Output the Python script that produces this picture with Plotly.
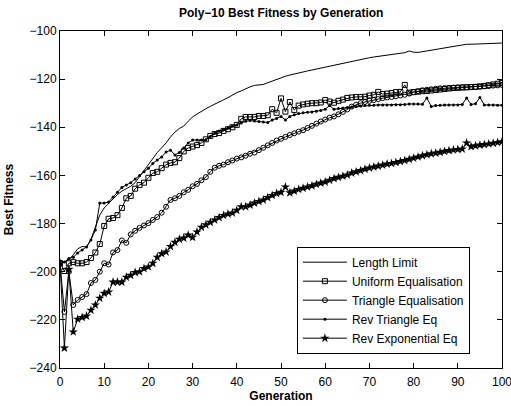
import plotly.graph_objects as go

generations = list(range(0, 101))

length_limit = [
    -196.4, -196.0, -195.0, -193.0, -190.5, -189.5, -189.8, -186.5, -181.5, -176.5,
    -173.5, -171.5, -169.8, -168.0, -166.5, -165.5, -164.5, -163.0, -160.5, -158.0,
    -155.0, -152.5, -150.5, -148.5, -146.5, -144.0, -142.0, -140.5, -139.5, -137.5,
    -135.7, -134.5, -133.3, -132.3, -131.3, -130.5, -129.5, -128.6, -127.7, -126.6,
    -125.6, -124.9, -124.0, -123.2, -122.6, -122.3, -122.2, -121.5, -120.8, -120.0,
    -119.3, -118.8, -118.3, -117.8, -117.4, -117.0, -116.6, -116.2, -115.8, -115.4,
    -115.0, -114.6, -114.2, -113.8, -113.3, -112.9, -112.5, -112.1, -111.8, -111.4,
    -111.1, -110.8, -110.5, -110.2, -110.0, -109.8, -109.6, -109.3, -109.0, -108.3,
    -108.8, -108.9, -108.6, -108.3, -108.0, -107.8, -107.4, -107.0, -106.6, -106.3,
    -106.0, -105.8, -105.5, -105.5, -105.4, -105.4, -105.3, -105.2, -105.1, -105.1,
    -105.0,
]

uniform_eq = [
    -196.4, -199.7, -196.5, -196.0, -196.5, -196.5, -196.0, -194.3, -192.0, -188.5,
    -181.0, -178.0, -177.7, -176.5, -173.5, -169.5, -168.5, -165.5, -164.0, -163.0,
    -161.0, -159.0, -158.5, -157.0, -155.5, -154.8, -154.5, -152.8, -150.0, -148.6,
    -148.0, -147.4, -146.5, -145.0, -143.6, -142.8, -142.4, -141.5, -140.8, -140.0,
    -139.0, -136.5, -135.7, -135.7, -135.7, -135.3, -135.3, -135.0, -132.5, -134.0,
    -128.0, -133.5, -129.5, -132.8, -131.0, -130.5, -130.2, -130.0, -130.0, -129.7,
    -128.7, -129.3, -129.8, -129.0, -128.5, -127.8, -127.6, -127.4, -127.4, -127.3,
    -126.8, -126.5, -125.3, -126.2, -126.0, -125.8, -125.4, -125.3, -122.4, -125.6,
    -125.4, -125.2, -125.0, -124.9, -124.7, -124.5, -124.3, -124.1, -123.9, -123.7,
    -123.6, -123.5, -123.4, -123.3, -123.2, -123.0, -122.8, -122.5, -122.2, -121.9,
    -121.6,
]

triangle_eq = [
    -196.4, -216.7, -200.0, -213.8, -211.7, -210.5, -209.3, -204.7, -203.4, -200.0,
    -196.5, -197.0, -192.0, -191.0, -187.0, -188.0, -184.5, -183.0, -181.8, -180.8,
    -179.8, -178.5, -177.3, -175.5, -173.0, -170.2, -169.5, -168.5, -167.0, -166.0,
    -164.5, -163.5, -162.0, -160.7, -158.5, -156.8, -156.0, -155.5, -154.5, -153.8,
    -153.0, -152.5, -151.8, -151.0, -150.5, -149.5, -148.5, -147.5, -146.5, -145.5,
    -144.8, -144.0, -143.2, -142.5, -141.8, -141.2, -140.3, -139.4, -138.5, -137.6,
    -136.8, -136.0, -135.5, -134.6, -133.6, -132.6, -131.4, -130.6, -130.0, -129.5,
    -129.0, -128.7, -128.3, -127.9, -127.6, -127.4, -127.1, -126.8, -126.5, -126.0,
    -125.4, -125.0, -124.6, -124.4, -124.2, -124.0, -123.8, -123.7, -123.6, -123.5,
    -123.4, -123.3, -123.3, -123.2, -123.2, -123.1, -123.0, -122.9, -122.7, -122.6,
    -122.4,
]

rev_triangle_eq = [
    -196.4, -196.0, -194.5, -194.0, -192.2, -191.0, -189.7, -186.8, -182.7, -171.5,
    -171.5, -171.0, -169.0, -167.0, -165.0, -164.0, -163.0, -161.5, -160.0, -158.5,
    -157.0, -155.0, -153.6, -152.3, -150.3, -149.5, -151.5, -150.5, -148.6, -146.5,
    -145.3, -145.3, -145.3, -145.2, -143.8, -142.5, -141.5, -141.0, -140.3, -139.5,
    -139.0, -138.2, -137.5, -137.2, -137.4, -137.6, -137.8, -138.0, -137.0, -136.3,
    -135.5, -137.0, -135.5, -134.8, -134.3, -134.0, -133.8, -133.6, -133.3, -133.0,
    -132.5, -131.0, -132.5, -132.2, -132.0, -131.8, -131.6, -131.4, -131.2, -131.0,
    -130.8, -130.8, -130.7, -130.7, -130.7, -130.7, -130.6, -130.6, -130.5, -130.3,
    -130.3, -130.3, -130.4, -127.8, -131.4, -131.0, -130.8, -130.7, -130.7, -130.7,
    -130.7, -130.5, -127.8, -130.5, -130.2, -127.6, -130.7, -130.7, -130.7, -130.8,
    -130.8,
]

rev_exponential_eq = [
    -196.4, -231.7, -199.0, -225.0, -219.7, -219.0, -218.4, -216.0, -213.8, -211.0,
    -209.0, -208.4, -204.3, -204.3, -204.3, -202.3, -201.5, -200.3, -200.0, -198.7,
    -198.0, -196.5, -194.0, -192.5, -191.8, -189.5, -187.8, -186.5, -186.0, -184.8,
    -185.7, -183.5, -181.5, -180.5, -179.5, -178.5, -177.5, -176.6, -176.0, -175.6,
    -174.5, -173.0, -173.0, -172.3, -171.5, -170.8, -170.2, -169.2, -168.3, -167.5,
    -167.0, -164.8, -167.2, -166.5, -165.8, -165.3, -164.8, -164.3, -163.7, -163.2,
    -162.7, -162.0, -161.3, -160.8, -160.3, -159.8, -159.0, -158.5, -158.0, -157.4,
    -156.9, -156.5, -156.1, -155.7, -155.3, -155.0, -154.6, -154.2, -153.8, -153.3,
    -152.8, -152.3, -151.8, -151.4, -151.0, -150.7, -150.4, -150.0, -149.7, -149.4,
    -149.2, -149.0, -146.5, -148.0, -147.7, -147.4, -147.2, -146.9, -146.6, -146.3,
    -146.0,
]

series_names = ["Length Limit", "Uniform Equalisation", "Triangle Equalisation",
                "Rev Triangle Eq", "Rev Exponential Eq"]
x_ticks = list(range(0, 101, 10))
y_ticks = list(range(-240, -99, 20))
title_text = "Poly\u221210 Best Fitness by Generation"

FONT = "Liberation Sans, Arial, Helvetica, sans-serif"

styles = [
    dict(mode="lines", marker=None),
    dict(mode="lines+markers", marker=dict(symbol="square-open", size=5, color="black", line=dict(width=1, color="black"))),
    dict(mode="lines+markers", marker=dict(symbol="circle-open", size=5, color="black", line=dict(width=1, color="black"))),
    dict(mode="lines+markers", marker=dict(symbol="circle", size=3, color="black")),
    dict(mode="lines+markers", marker=dict(symbol="star", size=7, color="black", line=dict(width=0))),
]
data = [length_limit, uniform_eq, triangle_eq, rev_triangle_eq, rev_exponential_eq]

fig = go.Figure()
for name, ys, st in zip(series_names, data, styles):
    kw = dict(x=generations, y=ys, name=name, mode=st["mode"],
              line=dict(color="black", width=1))
    if st["marker"] is not None:
        kw["marker"] = st["marker"]
    fig.add_trace(go.Scatter(**kw))

axis_common = dict(
    showline=True, linecolor="black", linewidth=1, mirror="ticks",
    ticks="inside", ticklen=5, tickwidth=1, tickcolor="black",
    showgrid=False, zeroline=False, ticklabeloverflow="allow",
    tickfont=dict(family=FONT, size=12, color="black"),
)

fig.update_layout(
    width=511, height=406,
    margin=dict(l=60, r=9, t=31, b=38, autoexpand=False),
    paper_bgcolor="white", plot_bgcolor="white",
    xaxis=dict(range=[0, 100], tickvals=x_ticks, ticklabelstandoff=3,
               title=dict(text="Generation", standoff=2,
                          font=dict(family=FONT, size=12, color="black", weight="bold")),
               **axis_common),
    yaxis=dict(range=[-240, -100], tickvals=y_ticks,
               title=dict(text="Best Fitness", standoff=13,
                          font=dict(family=FONT, size=12, color="black", weight="bold")),
               **axis_common),
    legend=dict(x=0.536, y=0.36, xanchor="left", yanchor="top",
                bgcolor="white", bordercolor="black", borderwidth=1,
                font=dict(family=FONT, size=12, color="black"),
                tracegroupgap=0, itemwidth=44),
    showlegend=True,
    annotations=[dict(text=title_text, xref="paper", yref="paper", x=0.5, y=1,
                      xanchor="center", yanchor="middle", yshift=18.5, showarrow=False,
                      font=dict(family=FONT, size=12, color="black", weight="bold"))],
)

fig.write_html("out.html", config={"displayModeBar": False},
               post_script="document.body.style.margin='0';")
